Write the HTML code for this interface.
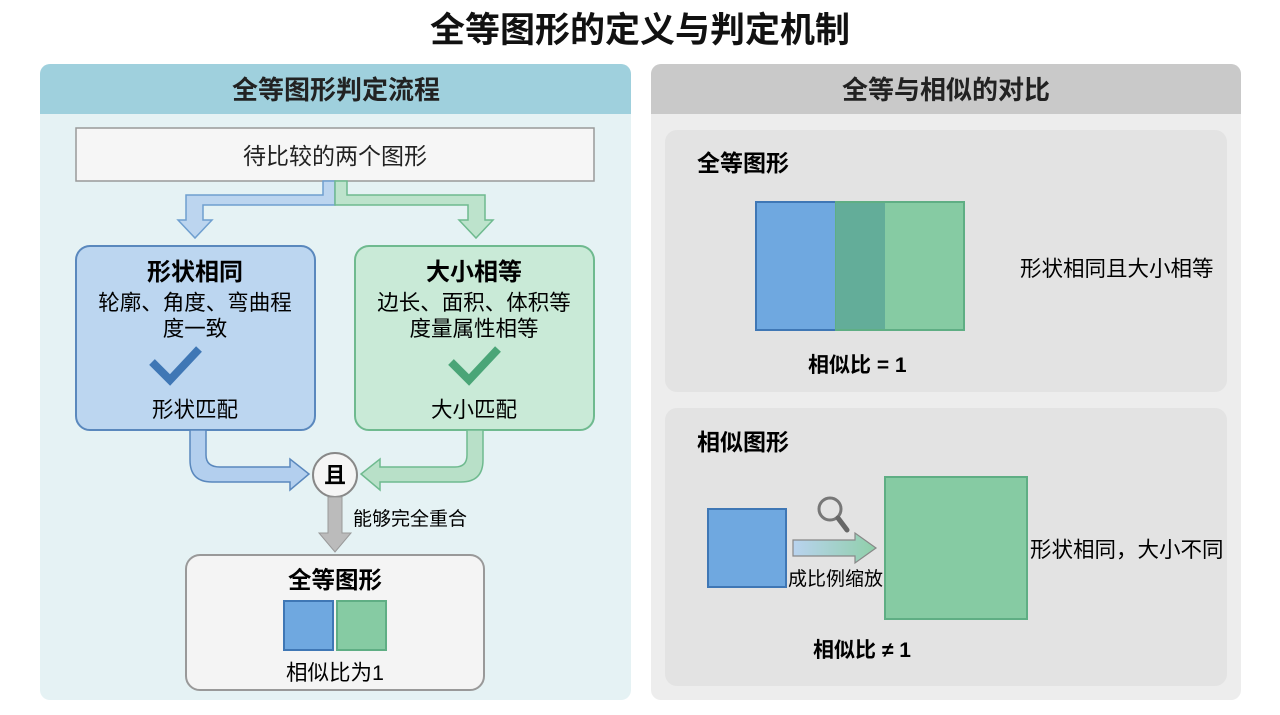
<!DOCTYPE html>
<html><head><meta charset="utf-8"><style>
html,body{margin:0;padding:0;background:#fff;}
body{width:1280px;height:715px;position:relative;overflow:hidden;font-family:"Liberation Sans","Noto Sans CJK SC",sans-serif;color:#222;}
</style></head><body>
<svg width="1280" height="715" viewBox="0 0 1280 715" xmlns="http://www.w3.org/2000/svg" style="position:absolute;left:0;top:0" font-family="Liberation Sans, Noto Sans CJK SC, sans-serif">
<defs>
<linearGradient id="g1" x1="0" x2="1"><stop offset="0" stop-color="#b9d3ef"/><stop offset="1" stop-color="#8fcfa9"/></linearGradient>
</defs>
<text x="640" y="42" text-anchor="middle" font-size="35" font-weight="bold" fill="#111">全等图形的定义与判定机制</text>
<!-- left panel -->
<rect x="40" y="64" width="591" height="636" rx="10" fill="#e5f2f4"/>
<path d="M40 114 V74 a10 10 0 0 1 10 -10 H621 a10 10 0 0 1 10 10 V114 Z" fill="#9fd0dd"/>
<text x="336" y="99" text-anchor="middle" font-size="26" font-weight="bold" fill="#222">全等图形判定流程</text>
<rect x="76" y="128" width="518" height="53" fill="#f6f6f6" stroke="#999" stroke-width="1.5"/>
<text x="335" y="164" text-anchor="middle" font-size="23" fill="#222">待比较的两个图形</text>
<!-- split arrows -->
<path d="M335 181 V205 H203 V220 H212 L195 238 L178 220 H186 V195 H323 V181 Z" fill="#bcd5ef" stroke="#6f9fcf" stroke-width="1.5"/>
<path d="M335 181 V205 H468 V220 H459 L476 238 L493 220 H485 V195 H347 V181 Z" fill="#bde3cc" stroke="#6fba8f" stroke-width="1.5"/>
<!-- blue box -->
<rect x="76" y="246" width="239" height="184" rx="14" fill="#bcd6f0" stroke="#5a88bd" stroke-width="2"/>
<text x="195" y="280" text-anchor="middle" font-size="24" font-weight="bold">形状相同</text>
<text x="195" y="310" text-anchor="middle" font-size="21.5">轮廓、角度、弯曲程</text>
<text x="195" y="336" text-anchor="middle" font-size="21.5">度一致</text>
<path d="M152 362 L170 380 L199 349" fill="none" stroke="#3f77b5" stroke-width="8"/>
<text x="195" y="417" text-anchor="middle" font-size="21.5">形状匹配</text>
<!-- green box -->
<rect x="355" y="246" width="239" height="184" rx="14" fill="#c9ead7" stroke="#6fba8f" stroke-width="2"/>
<text x="474" y="280" text-anchor="middle" font-size="24" font-weight="bold">大小相等</text>
<text x="474" y="310" text-anchor="middle" font-size="21.5">边长、面积、体积等</text>
<text x="474" y="336" text-anchor="middle" font-size="21.5">度量属性相等</text>
<path d="M451 362 L469 380 L498 349" fill="none" stroke="#4aa577" stroke-width="8"/>
<text x="474" y="417" text-anchor="middle" font-size="21.5">大小匹配</text>
<!-- merge arrows -->
<path d="M190 430 V460 Q190 482 212 482 H290 V490 L309 474 L290 459 V467 H220 Q206 467 206 455 V430 Z" fill="#b3cfee" stroke="#5a88bd" stroke-width="1.5"/>
<path d="M483 430 V460 Q483 482 461 482 H380 V490 L361 474 L380 459 V467 H455 Q467 467 467 455 V430 Z" fill="#b8e0c8" stroke="#6fba8f" stroke-width="1.5"/>
<circle cx="335" cy="475" r="22" fill="#f5f5f5" stroke="#888" stroke-width="2"/>
<text x="335" y="483" text-anchor="middle" font-size="22" font-weight="bold">且</text>
<path d="M328 497 V533 H319 L335 552 L351 533 H342 V497 Z" fill="#bbbbbb" stroke="#999" stroke-width="1"/>
<text x="353" y="525" font-size="19">能够完全重合</text>
<rect x="186" y="555" width="298" height="135" rx="14" fill="#f4f4f4" stroke="#999" stroke-width="2"/>
<text x="335" y="588" text-anchor="middle" font-size="23.5" font-weight="bold">全等图形</text>
<rect x="284" y="601" width="49" height="49" fill="#6fa8e0" stroke="#3f77b5" stroke-width="2"/>
<rect x="337" y="601" width="49" height="49" fill="#86cba3" stroke="#5fae84" stroke-width="2"/>
<text x="335" y="680" text-anchor="middle" font-size="21.5">相似比为1</text>
<!-- right panel -->
<rect x="651" y="64" width="590" height="636" rx="10" fill="#ededed"/>
<path d="M651 114 V74 a10 10 0 0 1 10 -10 H1231 a10 10 0 0 1 10 10 V114 Z" fill="#c9c9c9"/>
<text x="946" y="99" text-anchor="middle" font-size="26" font-weight="bold" fill="#222">全等与相似的对比</text>
<rect x="665" y="130" width="562" height="262" rx="12" fill="#e3e3e3"/>
<text x="697" y="171" font-size="23" font-weight="bold">全等图形</text>
<rect x="756" y="202" width="80" height="128" fill="#6fa8e0" stroke="#3f77b5" stroke-width="2"/>
<rect x="836" y="202" width="128" height="128" fill="#86cba3" stroke="#5fae84" stroke-width="2"/>
<rect x="836" y="203" width="49" height="126" fill="#63ad99"/>
<text x="1020" y="276" font-size="21.5">形状相同且大小相等</text>
<text x="808" y="372" font-size="21" font-weight="bold">相似比 = 1</text>
<rect x="665" y="408" width="562" height="278" rx="12" fill="#e3e3e3"/>
<text x="697" y="450" font-size="23" font-weight="bold">相似图形</text>
<rect x="708" y="509" width="78" height="78" fill="#6fa8e0" stroke="#3f77b5" stroke-width="2"/>
<path d="M793 540 H855 V533 L876 548 L855 563 V556 H793 Z" fill="url(#g1)" stroke="#888" stroke-width="1.2"/>
<circle cx="830" cy="509" r="11" fill="none" stroke="#777" stroke-width="3"/>
<line x1="838" y1="518" x2="847" y2="530" stroke="#666" stroke-width="5" stroke-linecap="round"/>
<text x="788" y="585" font-size="19">成比例缩放</text>
<rect x="885" y="477" width="142" height="142" fill="#86cba3" stroke="#5fae84" stroke-width="2"/>
<text x="1030" y="557" font-size="21.5">形状相同，大小不同</text>
<text x="813" y="657" font-size="21" font-weight="bold">相似比 ≠ 1</text>
</svg>
</body></html>
